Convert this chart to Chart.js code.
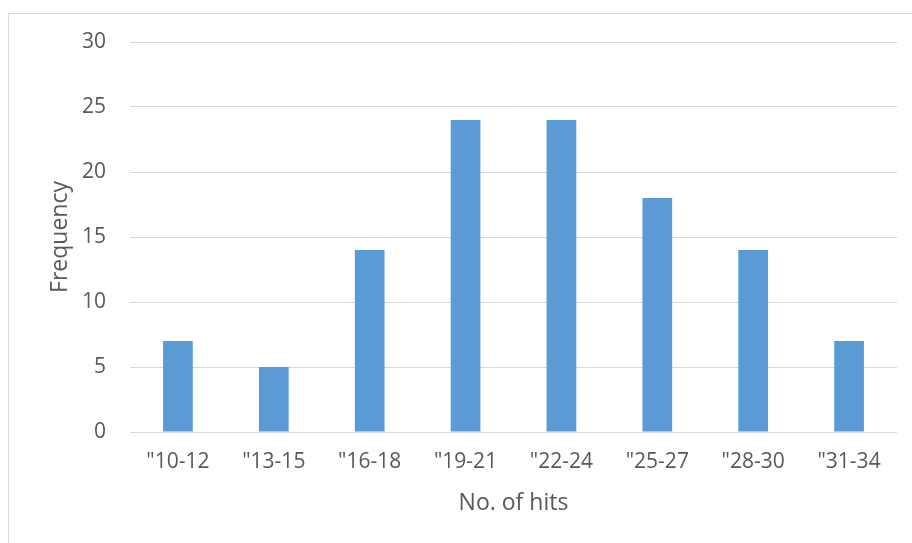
<!DOCTYPE html>
<html>
<head>
<meta charset="utf-8">
<script src="https://cdn.jsdelivr.net/npm/chart.js@4"></script>
<style>
html,body{margin:0;padding:0;background:#fff;}
#wrap{position:relative;width:912px;height:543px;}
</style>
</head>
<body>
<div id="wrap"><canvas id="c" width="912" height="543"></canvas></div>
<script>
const categories = ['"10-12', '"13-15', '"16-18', '"19-21', '"22-24', '"25-27', '"28-30', '"31-34'];
const frequency = [7, 5, 14, 24, 24, 18, 14, 7];
const xTitle = 'No. of hits';
const yTitle = 'Frequency';

const TEXT = '#595959';
const TICK_FONT = {family: '"Open Sans", sans-serif', size: 21};
const TITLE_FONT = {family: '"Open Sans", sans-serif', size: 23};

const frame = {
  id: 'frame',
  beforeDraw(chart) {
    const ctx = chart.ctx;
    ctx.save();
    ctx.fillStyle = '#fff';
    ctx.fillRect(0, 0, chart.width, chart.height);
    ctx.strokeStyle = '#d9d9d9';
    ctx.lineWidth = 1;
    ctx.strokeRect(8.5, 13.5, 1000, 700);
    ctx.restore();
  }
};

new Chart(document.getElementById('c'), {
  type: 'bar',
  data: {
    labels: categories,
    datasets: [{
      data: frequency,
      backgroundColor: '#5b9bd5',
      borderWidth: 0,
      barPercentage: 0.31,
      categoryPercentage: 1.0
    }]
  },
  options: {
    responsive: false,
    animation: false,
    devicePixelRatio: 1,
    layout: {padding: {top: 42, right: 15, left: 0, bottom: 0}},
    plugins: {legend: {display: false}, tooltip: {enabled: false}},
    scales: {
      x: {
        grid: {display: false, drawTicks: false},
        border: {display: false},
        ticks: {color: TEXT, font: TICK_FONT, padding: 17, maxRotation: 0, autoSkip: false},
        title: {display: true, text: xTitle, color: TEXT, font: TITLE_FONT, padding: {top: 26, bottom: 26}},
        afterFit(s) { s.height = 111; }
      },
      y: {
        min: 0, max: 30,
        ticks: {stepSize: 5, color: TEXT, font: TICK_FONT, padding: 24},
        grid: {color: '#d9d9d9', lineWidth: 1, drawTicks: false},
        border: {display: false},
        title: {display: true, text: yTitle, color: TEXT, font: TITLE_FONT, padding: {top: 47, bottom: 47}},
        afterFit(s) { s.width = 130; }
      }
    }
  },
  plugins: [frame]
});
</script>
</body>
</html>
